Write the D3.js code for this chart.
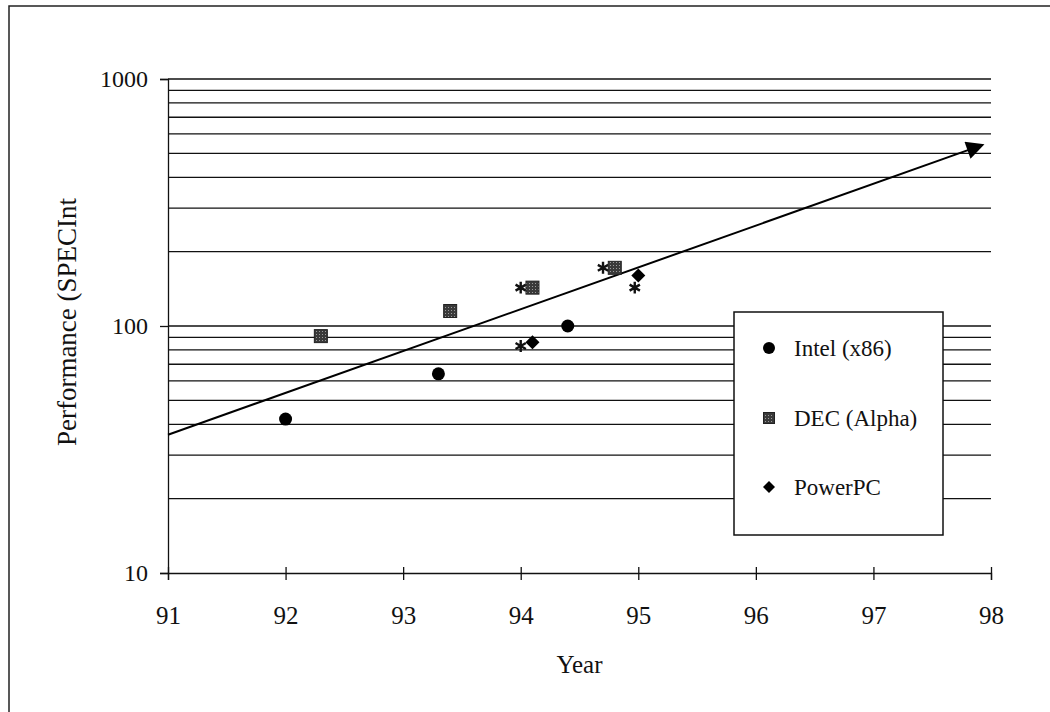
<!DOCTYPE html>
<html>
<head>
<meta charset="utf-8">
<script src="https://cdn.jsdelivr.net/npm/d3@7"></script>
<style>
  body { margin: 0; background: #fff; }
  svg text { font-family: "Liberation Serif", "Times New Roman", serif; fill: #111; }
</style>
</head>
<body>
<div id="chart"></div>
<script>
// data
const intelYears = [92.0, 93.3, 94.4];
const intelPerf = [42, 64, 100];
const decYears = [92.3, 93.4, 94.1, 94.8];
const decPerf = [91, 115, 143, 172];
const ppcYears = [94.1, 95.0];
const ppcPerf = [86, 160];
const starYears = [94.0, 94.0, 94.7, 94.97];
const starPerf = [143, 83, 172, 143];
const trendYears = [91, 97.93];
const trendPerf = [36.3, 541];
const xTicks = [91, 92, 93, 94, 95, 96, 97, 98];
const yTicks = [10, 100, 1000];
const gridVals = [20, 30, 40, 50, 60, 70, 80, 90, 100, 200, 300, 400, 500, 600, 700, 800, 900, 1000];
const legendNames = ["Intel (x86)", "DEC (Alpha)", "PowerPC"];

const width = 1050, height = 712;
const margin = {top: 79, right: 59, bottom: 139, left: 168};

var svg = d3.select("#chart").append("svg")
    .attr("width", width)
    .attr("height", height);

// stipple fill for the DEC squares
const defs = svg.append("defs");
const pat = defs.append("pattern")
    .attr("id", "stipple")
    .attr("width", 3).attr("height", 3)
    .attr("patternUnits", "userSpaceOnUse");
pat.append("rect").attr("width", 3).attr("height", 3).attr("fill", "#3a3a3a");
pat.append("rect").attr("x", 1).attr("y", 1).attr("width", 1).attr("height", 1).attr("fill", "#9a9a9a");

defs.append("marker")
    .attr("id", "arrow")
    .attr("viewBox", "0 0 10 10")
    .attr("refX", 9).attr("refY", 5)
    .attr("markerWidth", 13).attr("markerHeight", 9)
    .attr("markerUnits", "strokeWidth")
    .attr("orient", "auto")
    .append("path")
    .attr("d", "M0,0 L10,5 L0,10 z")
    .attr("fill", "#000");

// outer frame (scan border)
svg.append("path")
    .attr("d", "M9," + height + " L9,6 L" + width + ",6")
    .attr("fill", "none")
    .attr("stroke", "#222")
    .attr("stroke-width", 1.5);

var x = d3.scaleLinear().domain([91, 98]).range([margin.left, width - margin.right]);
var y = d3.scaleLog().domain([10, 1000]).range([height - margin.bottom, margin.top]);

// horizontal grid
svg.append("g")
    .selectAll("line")
    .data(gridVals)
    .join("line")
    .attr("x1", x(91)).attr("x2", x(98))
    .attr("y1", d => y(d)).attr("y2", d => y(d))
    .attr("stroke", "#111")
    .attr("stroke-width", 1.3);

// y axis
const yAxis = svg.append("g")
    .attr("transform", `translate(${margin.left},0)`)
    .call(d3.axisLeft(y).tickValues(yTicks).tickFormat(d3.format("d")).tickSize(8).tickPadding(12));
yAxis.select(".domain").attr("stroke", "#111").attr("stroke-width", 1.3);
yAxis.selectAll(".tick line").attr("stroke", "#111").attr("stroke-width", 1.3);
yAxis.selectAll("text").style("font-size", "24px").attr("fill", "#111");

// x axis
const xAxis = svg.append("g")
    .attr("transform", `translate(0,${y(10)})`)
    .call(d3.axisBottom(x).tickValues(xTicks).tickFormat(d3.format("d")).tickSize(7).tickPadding(26));
xAxis.select(".domain").attr("stroke", "#111").attr("stroke-width", 1.3);
xAxis.selectAll(".tick line").attr("stroke", "#111").attr("stroke-width", 1.3).attr("y1", -6);
xAxis.selectAll("text").style("font-size", "25px").attr("fill", "#111");

// axis titles
svg.append("text")
    .attr("x", x(94.5)).attr("y", 673)
    .attr("text-anchor", "middle")
    .style("font-size", "25px")
    .text("Year");

svg.append("text")
    .attr("transform", "translate(76,322) rotate(-90)")
    .attr("text-anchor", "middle")
    .style("font-size", "27px")
    .text("Performance (SPECInt");

// trend arrow
svg.append("line")
    .attr("x1", x(trendYears[0])).attr("y1", y(trendPerf[0]))
    .attr("x2", x(trendYears[1])).attr("y2", y(trendPerf[1]))
    .attr("stroke", "#000")
    .attr("stroke-width", 2)
    .attr("marker-end", "url(#arrow)");

const pts = (xs, ys) => xs.map((d, i) => ({x: d, y: ys[i]}));

// asterisks
svg.append("g").selectAll("path")
    .data(pts(starYears, starPerf))
    .join("path")
    .attr("transform", d => `translate(${x(d.x)},${y(d.y)})`)
    .attr("d", d3.symbol(d3.symbolAsterisk, 100))
    .attr("fill", "none")
    .attr("stroke", "#111")
    .attr("stroke-width", 2.4);

// Intel
svg.append("g").selectAll("circle")
    .data(pts(intelYears, intelPerf))
    .join("circle")
    .attr("cx", d => x(d.x)).attr("cy", d => y(d.y))
    .attr("r", 6.5)
    .attr("fill", "#000");

// DEC
svg.append("g").selectAll("rect")
    .data(pts(decYears, decPerf))
    .join("rect")
    .attr("x", d => x(d.x) - 6.5).attr("y", d => y(d.y) - 6.5)
    .attr("width", 13).attr("height", 13)
    .attr("fill", "url(#stipple)")
    .attr("stroke", "#222")
    .attr("stroke-width", 1);

// PowerPC
svg.append("g").selectAll("path")
    .data(pts(ppcYears, ppcPerf))
    .join("path")
    .attr("transform", d => `translate(${x(d.x)},${y(d.y)})`)
    .attr("d", "M0,-7 L7,0 L0,7 L-7,0 Z")
    .attr("fill", "#000");

// legend
const legend = svg.append("g").attr("transform", "translate(734,312)");
legend.append("rect")
    .attr("width", 209).attr("height", 223)
    .attr("fill", "#fff")
    .attr("stroke", "#111")
    .attr("stroke-width", 1.5);

const rowY = [36, 106, 175];
legend.append("circle").attr("cx", 35).attr("cy", rowY[0]).attr("r", 6).attr("fill", "#000");
legend.append("rect").attr("x", 29.5).attr("y", rowY[1] - 5.5).attr("width", 11).attr("height", 11)
    .attr("fill", "url(#stipple)").attr("stroke", "#222");
legend.append("path").attr("transform", `translate(35,${rowY[2]})`)
    .attr("d", "M0,-6 L6,0 L0,6 L-6,0 Z").attr("fill", "#000");

legend.selectAll("text.lg")
    .data(legendNames)
    .join("text")
    .attr("class", "lg")
    .attr("x", 60)
    .attr("y", (d, i) => rowY[i] + 8)
    .style("font-size", "23px")
    .text(d => d);
</script>
</body>
</html>
